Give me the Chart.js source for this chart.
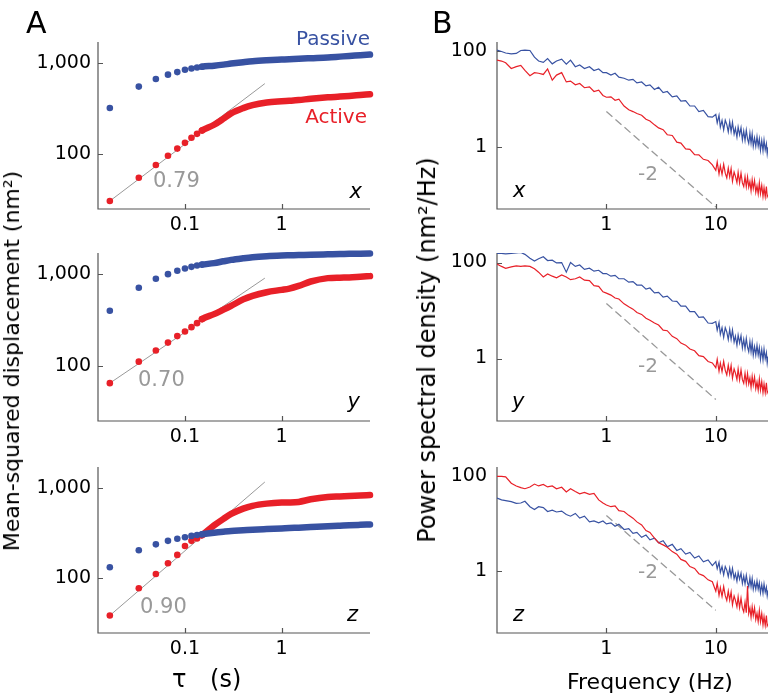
<!DOCTYPE html>
<html>
<head>
<meta charset="utf-8">
<script src="https://cdn.jsdelivr.net/npm/chart.js@4.4.1/dist/chart.umd.min.js"></script>
<style>
  body { margin: 0; background: #fff; width: 776px; height: 698px; position: relative; overflow: hidden; font-family: 'DejaVu Sans', sans-serif; }
  canvas { position: absolute; }
  .lbl { position: absolute; white-space: nowrap; line-height: 1; }
</style>
</head>
<body>
<script>
// --- MSD data (panel A) ---
var TAU = [0.0167, 0.0333, 0.05, 0.0667, 0.0833, 0.1, 0.1167, 0.1333, 0.15, 0.2, 0.25, 0.3, 0.4, 0.5, 0.7, 1, 1.2, 1.5, 2, 3, 4, 5, 6.5, 8.2];
var MSD_X_PASSIVE = [321, 551, 667, 745, 795, 843, 871, 893, 910, 935, 960, 985, 1020, 1045, 1070, 1090, 1100, 1115, 1130, 1150, 1175, 1195, 1215, 1236];
var MSD_X_ACTIVE = [30.6, 55, 76, 96, 115, 133, 151, 167, 182, 210, 245, 280, 320, 345, 368, 380, 385, 392, 405, 420, 428, 435, 445, 454];
var MSD_Y_PASSIVE = [398, 710, 889, 1000, 1087, 1150, 1200, 1240, 1270, 1318, 1380, 1430, 1490, 1531, 1570, 1596, 1605, 1615, 1630, 1645, 1655, 1665, 1672, 1678];
var MSD_Y_ACTIVE = [64.7, 111, 147, 179, 211, 237, 264, 292, 323, 366, 410, 451, 530, 580, 635, 674, 696, 745, 831, 904, 915, 918, 935, 951];
var MSD_Z_PASSIVE = [133, 205, 238, 260, 274, 285, 295, 302, 308, 320, 328, 334, 340, 345, 351, 357, 360, 364, 369, 376, 382, 387, 391, 394];
var MSD_Z_ACTIVE = [39, 78, 112, 147, 182, 228, 260, 276, 300, 385, 455, 515, 590, 634, 670, 688, 690, 700, 748, 793, 805, 813, 825, 834];
var SPARSE_LAST = 8;

var FIT_TAU = [0.0167, 0.67];
var FIT_X = [30.6, 594];
var FIT_Y = [64.7, 904];
var FIT_Z = [39, 1161];

// --- PSD data (panel B) ---
var F = [0.1, 0.11, 0.12, 0.135, 0.15, 0.165, 0.18, 0.2, 0.22, 0.24, 0.265, 0.29, 0.32, 0.35, 0.39, 0.43, 0.47, 0.52, 0.57, 0.63, 0.7, 0.77, 0.85, 0.93,
  1.0, 1.1, 1.2, 1.3, 1.45, 1.6, 1.75, 1.9, 2.1, 2.3, 2.5, 2.75, 3.0, 3.3, 3.6, 4.0, 4.4, 4.8, 5.3, 5.8, 6.4, 7.0, 7.7, 8.5, 9.3,
  10, 10.3, 10.7, 11, 11.4, 11.8, 12.2, 12.6, 13, 13.4, 13.8, 14.2, 14.7, 15.1, 15.6, 16, 16.5, 17, 17.5, 18, 18.5, 19, 19.5, 20,
  20.5, 21, 21.5, 22, 22.6, 23.2, 23.8, 24.4, 25, 25.6, 26.3, 27, 27.6, 28.3, 29, 29.5, 30];
var PSD_X_PASSIVE = [107, 100, 93, 89, 91, 105, 107, 105, 76, 63, 59, 71, 55, 63, 69, 54, 66, 48, 52, 44, 48, 40, 43, 36,
  36, 32, 35, 29, 27.5, 25, 26, 22, 23, 19, 20, 16, 17.8, 13.8, 14.5, 11.2, 11.7, 9.1, 9.3, 7.2, 7.2, 5.5, 5.8, 4.3, 4.2,
  4.79, 3.19, 4.59, 2.61, 3.61, 2.28, 3.63, 2.96, 2.06, 3.37, 2.09, 3.27, 1.85, 2.46, 1.60, 2.62, 1.79, 2.54, 1.41, 2.16, 1.37, 2.26, 1.48, 1.19,
  1.95, 1.20, 1.88, 1.03, 1.54, 1.03, 1.65, 1.04, 1.48, 0.85, 1.36, 0.83, 1.40, 0.87, 1.17, 0.72, 0.98];
var PSD_X_ACTIVE = [66, 63, 58, 44, 48, 51, 40, 31, 36, 35, 33, 43, 25, 32, 36, 23, 24, 20, 21.4, 17.4, 18.2, 14.5, 15.5, 12,
  11, 11.2, 9.5, 10, 7.2, 6, 5.5, 5, 4.6, 3.8, 3.5, 2.9, 2.5, 2.3, 1.8, 1.74, 1.26, 1.2, 0.91, 0.89, 0.69, 0.68, 0.55, 0.52, 0.42,
  0.324, 0.484, 0.272, 0.399, 0.265, 0.432, 0.281, 0.225, 0.360, 0.235, 0.352, 0.191, 0.297, 0.245, 0.179, 0.295, 0.176, 0.282, 0.176, 0.148, 0.238, 0.146, 0.234, 0.144,
  0.188, 0.121, 0.204, 0.134, 0.197, 0.112, 0.154, 0.104, 0.179, 0.105, 0.157, 0.092, 0.139, 0.091, 0.147, 0.091, 0.100];
var PSD_Y_PASSIVE = [155, 155, 151, 155, 158, 162, 148, 123, 107, 120, 132, 110, 112, 98, 100, 63, 100, 83, 89, 72, 76, 66, 69, 59,
  59, 52, 54, 46, 46, 39, 40, 34, 34, 28, 29.5, 23.4, 24, 19, 20, 15.8, 15.5, 12.3, 12.3, 9.5, 9.5, 7.2, 7.4, 5.5, 5.4,
  5.89, 3.91, 5.62, 3.18, 4.40, 2.77, 4.39, 3.58, 2.48, 4.05, 2.51, 3.92, 2.20, 2.92, 1.89, 3.10, 2.11, 2.99, 1.66, 2.52, 1.61, 2.63, 1.72, 1.38,
  2.26, 1.38, 2.17, 1.18, 1.77, 1.18, 1.89, 1.18, 1.69, 0.96, 1.54, 0.94, 1.58, 0.99, 1.32, 0.81, 1.10];
var PSD_Y_ACTIVE = [93, 83, 76, 81, 85, 83, 85, 83, 74, 63, 50, 58, 52, 48, 55, 50, 44, 46, 50, 43, 42, 33, 32, 24.5,
  23, 21, 18.2, 17.4, 13.8, 12, 10.7, 9.1, 8.3, 6.9, 6.3, 5.5, 5.0, 3.9, 3.8, 2.9, 2.6, 2.1, 1.9, 1.58, 1.45, 1.15, 1.1, 0.87, 0.81,
  0.646, 0.968, 0.546, 0.802, 0.533, 0.871, 0.568, 0.456, 0.730, 0.478, 0.716, 0.390, 0.608, 0.502, 0.367, 0.607, 0.361, 0.581, 0.363, 0.306, 0.493, 0.302, 0.488, 0.299,
  0.392, 0.252, 0.428, 0.281, 0.413, 0.237, 0.324, 0.219, 0.378, 0.222, 0.334, 0.195, 0.295, 0.194, 0.313, 0.194, 0.214];
var PSD_Z_PASSIVE = [35, 32, 31, 29.5, 27, 27.5, 30, 23, 20, 23, 22, 18.2, 19.5, 17.8, 18.6, 15.8, 14.5, 16.6, 13.2, 14.5, 11, 11.5, 10.5, 11.5,
  10, 10.5, 8.9, 9.8, 7.6, 7.9, 6.3, 6.6, 5.2, 5.8, 4.6, 5.0, 4.0, 4.4, 3.3, 3.7, 2.75, 3.0, 2.3, 2.5, 1.9, 2.1, 1.58, 1.74, 1.32,
  1.60, 1.13, 1.55, 0.953, 1.26, 0.845, 1.26, 1.06, 0.774, 1.17, 0.783, 1.15, 0.700, 0.893, 0.617, 0.942, 0.678, 0.914, 0.553, 0.792, 0.541, 0.824, 0.573, 0.475,
  0.726, 0.476, 0.702, 0.418, 0.589, 0.418, 0.624, 0.419, 0.569, 0.352, 0.527, 0.345, 0.540, 0.361, 0.462, 0.306, 0.395];
var PSD_Z_ACTIVE = [100, 100, 98, 72, 63, 58, 55, 60, 69, 63, 68, 60, 63, 55, 59, 47, 55, 48, 43, 46, 42, 44, 32, 27.5,
  25, 23, 24, 19, 18.2, 15.1, 13.2, 11, 9.5, 7.2, 6.6, 5.0, 4.0, 3.6, 3.2, 2.6, 2.3, 1.78, 1.62, 1.26, 1.15, 0.89, 0.81, 0.66, 0.60,
  0.380, 0.562, 0.312, 0.453, 0.296, 0.476, 0.306, 0.243, 0.383, 0.247, 0.366, 0.197, 0.302, 0.247, 0.178, 0.290, 0.171, 0.271, 0.167, 0.139, 0.222, 0.134, 0.49, 0.130,
  0.168, 0.107, 0.179, 0.117, 0.170, 0.096, 0.130, 0.087, 0.149, 0.086, 0.129, 0.074, 0.111, 0.072, 0.116, 0.071, 0.078];

var SLOPE_F = [1, 10];
var SLOPE_X = [5.5, 0.055];
var SLOPE_Y = [14, 0.14];
var SLOPE_Z = [15, 0.15];

var MSD_X_TICKS = [0.1, 1];
var MSD_Y_TICKS = [100, 1000];
var PSD_X_TICKS = [1, 10];
var PSD_Y_TICKS = [1, 100];

var BLUE = 'rgb(56, 82, 162)';
var RED = 'rgb(232, 32, 40)';
var GRAY = '#999999';
var AXIS = '#555555';
var ROWS = [{ top: 42, bottom: 209 }, { top: 253, bottom: 421 }, { top: 467, bottom: 633 }];

Chart.defaults.font.family = "'DejaVu Sans', sans-serif";
Chart.defaults.color = '#000';

var axisPlugin = {
  id: 'inAxis',
  beforeDatasetsDraw: function (chart) {
    var ctx = chart.ctx, a = chart.chartArea, xs = chart.scales.x, ys = chart.scales.y;
    ctx.save();
    ctx.strokeStyle = AXIS;
    ctx.lineWidth = 1.2;
    ctx.beginPath();
    ctx.moveTo(a.left, a.top);
    ctx.lineTo(a.left, a.bottom);
    ctx.lineTo(a.right, a.bottom);
    xs.ticks.forEach(function (t) {
      var p = Math.round(xs.getPixelForValue(t.value)) + 0.5;
      ctx.moveTo(p, a.bottom);
      ctx.lineTo(p, a.bottom - 5);
    });
    ys.ticks.forEach(function (t) {
      var p = Math.round(ys.getPixelForValue(t.value)) + 0.5;
      ctx.moveTo(a.left, p);
      ctx.lineTo(a.left + 5, p);
    });
    ctx.stroke();
    ctx.restore();
  }
};

function fmt(v) {
  return v >= 1000 ? v.toLocaleString('en-US') : String(v);
}

function logScale(min, max, ticks, pad, fit) {
  return {
    type: 'logarithmic', min: min, max: max, bounds: 'data',
    grid: { display: false, drawTicks: false }, border: { display: false },
    afterBuildTicks: function (s) { s.ticks = ticks.map(function (v) { return { value: v }; }); },
    afterFit: fit,
    ticks: { font: { size: 19 }, padding: pad, autoSkip: false, maxRotation: 0, callback: fmt }
  };
}

function pts(xs, ys) {
  return xs.map(function (x, i) { return { x: x, y: ys[i] }; });
}

function msdSet(values, color) {
  return {
    data: pts(TAU, values), borderColor: color, backgroundColor: color, borderWidth: 6.5,
    borderCapStyle: 'round', borderJoinStyle: 'round', cubicInterpolationMode: 'monotone', clip: 8,
    pointRadius: function (c) { return c.dataIndex <= SPARSE_LAST ? 3.3 : 0; },
    pointBorderWidth: 0, pointBackgroundColor: color,
    segment: { borderColor: function (c) { return c.p0DataIndex < SPARSE_LAST ? 'rgba(0,0,0,0)' : undefined; } }
  };
}

function thinSet(xs, ys, color, width, dash) {
  return { data: pts(xs, ys), borderColor: color, borderWidth: width, borderDash: dash || [], pointRadius: 0, tension: 0 };
}

function makePanel(left, width, yw, padR, row, xr, yr, datasets) {
  var c = document.createElement('canvas');
  var h = (row.bottom - row.top) + 10 + 45;
  c.width = width; c.height = h;
  c.style.left = left + 'px'; c.style.top = (row.top - 10) + 'px';
  c.style.width = width + 'px'; c.style.height = h + 'px';
  document.body.appendChild(c);
  new Chart(c, {
    type: 'line',
    data: { datasets: datasets },
    plugins: [axisPlugin],
    options: {
      responsive: false, animation: false, events: [],
      layout: { padding: { top: 10, right: padR, left: 0, bottom: 0 } },
      plugins: { legend: { display: false }, tooltip: { enabled: false } },
      scales: {
        x: logScale(xr[0], xr[1], xr[2], 5, function (s) { s.height = 45; s.paddingLeft = 0; s.paddingRight = 0; }),
        y: logScale(yr[0], yr[1], yr[2], yr[3], function (s) { s.width = yw; s.paddingTop = 0; s.paddingBottom = 0; })
      }
    }
  });
}

var msdX = [0.0126, 8.2, MSD_X_TICKS];
var msdY = [25, 1700, MSD_Y_TICKS, 7];
var psdX = [0.1, 30, PSD_X_TICKS];
var psdY = [0.05, 158, PSD_Y_TICKS, 10];

makePanel(0, 385, 98, 15, ROWS[0], msdX, msdY, [msdSet(MSD_X_PASSIVE, BLUE), msdSet(MSD_X_ACTIVE, RED), thinSet(FIT_TAU, FIT_X, GRAY, 1)]);
makePanel(0, 385, 98, 15, ROWS[1], msdX, msdY, [msdSet(MSD_Y_PASSIVE, BLUE), msdSet(MSD_Y_ACTIVE, RED), thinSet(FIT_TAU, FIT_Y, GRAY, 1)]);
makePanel(0, 385, 98, 15, ROWS[2], msdX, msdY, [msdSet(MSD_Z_PASSIVE, BLUE), msdSet(MSD_Z_ACTIVE, RED), thinSet(FIT_TAU, FIT_Z, GRAY, 1)]);

makePanel(437, 339, 60, 8, ROWS[0], psdX, psdY, [thinSet(F, PSD_X_ACTIVE, RED, 1.2), thinSet(F, PSD_X_PASSIVE, BLUE, 1.2), thinSet(SLOPE_F, SLOPE_X, GRAY, 1.3, [8, 4])]);
makePanel(437, 339, 60, 8, ROWS[1], psdX, psdY, [thinSet(F, PSD_Y_ACTIVE, RED, 1.2), thinSet(F, PSD_Y_PASSIVE, BLUE, 1.2), thinSet(SLOPE_F, SLOPE_Y, GRAY, 1.3, [8, 4])]);
makePanel(437, 339, 60, 8, ROWS[2], psdX, psdY, [thinSet(F, PSD_Z_ACTIVE, RED, 1.2), thinSet(F, PSD_Z_PASSIVE, BLUE, 1.2), thinSet(SLOPE_F, SLOPE_Z, GRAY, 1.3, [8, 4])]);

// text: x is left edge (or right edge when right is set), yb is the baseline
function label(text, x, yb, size, opts) {
  opts = opts || {};
  var d = document.createElement('div');
  d.className = 'lbl';
  d.textContent = text;
  d.style.fontSize = size + 'px';
  d.style.color = opts.color || '#000';
  if (opts.italic) d.style.fontStyle = 'italic';
  if (opts.wordSpacing) d.style.wordSpacing = opts.wordSpacing + 'px';
  d.style.top = (yb - 0.846 * size) + 'px';
  if (opts.right) d.style.right = (776 - x) + 'px';
  else d.style.left = x + 'px';
  document.body.appendChild(d);
}

function vlabel(text, xb, yc, size) {
  var d = document.createElement('div');
  d.className = 'lbl';
  d.textContent = text;
  d.style.fontSize = size + 'px';
  d.style.left = (xb - 0.346 * size) + 'px';
  d.style.top = yc + 'px';
  d.style.transform = 'translate(-50%, -50%) rotate(-90deg)';
  document.body.appendChild(d);
}

label('A', 26, 33, 30);
label('B', 432, 33, 30);
label('Passive', 370, 45, 20, { color: BLUE, right: true });
label('Active', 367, 123, 20, { color: RED, right: true });

label('0.79', 153, 188, 21, { color: GRAY });
label('0.70', 138, 387, 21, { color: GRAY });
label('0.90', 140, 614, 21, { color: GRAY });
label('x', 362, 199, 21, { italic: true, right: true });
label('y', 360, 409, 21, { italic: true, right: true });
label('z', 358, 622, 21, { italic: true, right: true });

label('x', 513, 198, 21, { italic: true });
label('y', 512, 409, 21, { italic: true });
label('z', 513, 622, 21, { italic: true });
label('-2', 638, 180, 20, { color: GRAY });
label('-2', 638, 372, 20, { color: GRAY });
label('-2', 638, 578, 20, { color: GRAY });

label('\u03c4 (s)', 172, 687, 24, { wordSpacing: 16 });
label('Frequency (Hz)', 567, 690, 22);
vlabel('Mean-squared displacement (nm\u00b2)', 20, 361, 22);
vlabel('Power spectral density (nm\u00b2/Hz)', 435, 350, 24);
</script>
</body>
</html>
